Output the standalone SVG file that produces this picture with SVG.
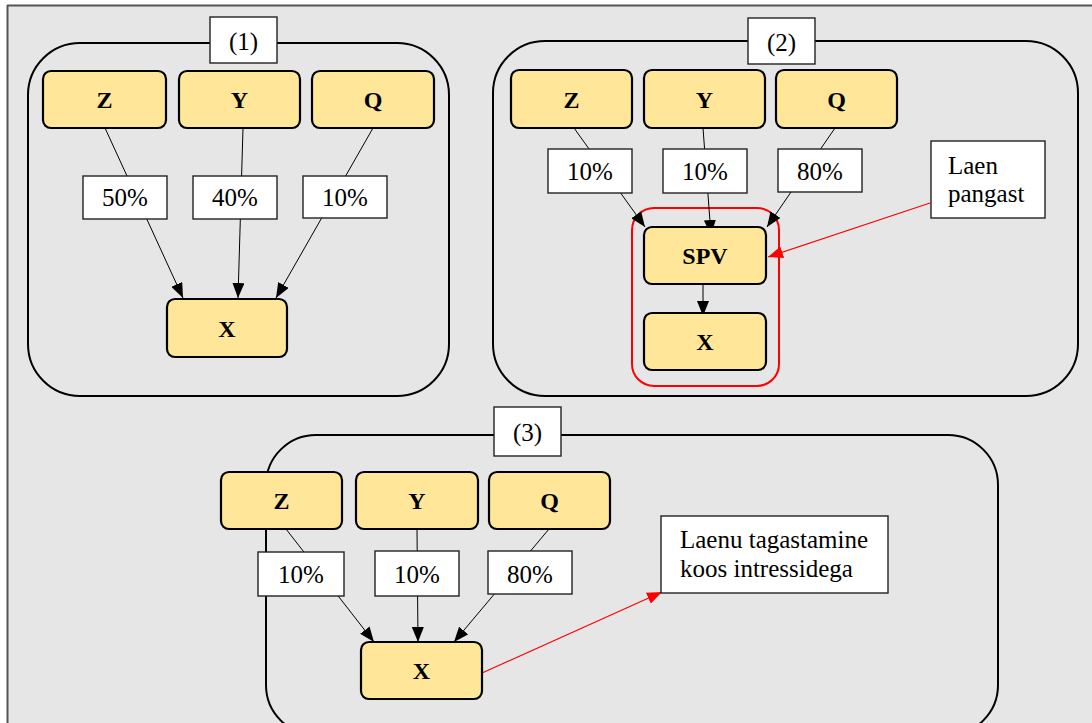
<svg xmlns="http://www.w3.org/2000/svg" width="1092" height="723" viewBox="0 0 1092 723" font-family="'Liberation Serif', 'Times New Roman', Times, serif">
  <style>
    text { font-family: 'Liberation Serif', 'Times New Roman', Times, serif; fill: #000; }
    .panel { fill: none; stroke: #000; stroke-width: 2; }
    .node rect { fill: #ffe699; stroke: #000; stroke-width: 2.2; }
    .node text { font-weight: bold; font-size: 24px; text-anchor: middle; }
    .box { fill: #fff; stroke: #222; stroke-width: 1.4; }
    .lbl { font-size: 25px; text-anchor: middle; }
    .note { font-size: 25px; }
    .edge { stroke: #000; stroke-width: 1; fill: none; marker-end: url(#arrow); }
    .redge { stroke: #ff0000; stroke-width: 1.2; fill: none; marker-end: url(#arrowRed); }
  </style>
  <defs>
    <marker id="arrow" markerUnits="userSpaceOnUse" markerWidth="15" markerHeight="12" refX="15" refY="6" orient="auto">
      <path d="M0,0 L15,6 L0,12 z" fill="#000"/>
    </marker>
    <marker id="arrowRed" markerUnits="userSpaceOnUse" markerWidth="15" markerHeight="12" refX="15" refY="6" orient="auto">
      <path d="M0,0 L15,6 L0,12 z" fill="#ff0000"/>
    </marker>
  </defs>

  <!-- page background -->
  <rect x="0" y="0" width="1092" height="723" fill="#ffffff"/>
  <rect x="7" y="5" width="1085" height="718" fill="#e6e6e6"/>
  <line x1="7" y1="5.5" x2="1092" y2="5.5" stroke="#555" stroke-width="2"/>
  <line x1="7.5" y1="5" x2="7.5" y2="723" stroke="#555" stroke-width="2"/>

  <!-- panel frames -->
  <g id="panels">
    <rect class="panel" x="28" y="43" width="421" height="353" rx="52"/>
    <rect class="panel" x="493" y="41" width="585" height="355" rx="52"/>
    <rect class="panel" x="266" y="435" width="732" height="300" rx="50"/>
    <rect x="632" y="208" width="147" height="178" rx="22" fill="none" stroke="#ff0000" stroke-width="2"/>
  </g>

  <!-- connectors (drawn under the percentage boxes) -->
  <g id="connectors">
    <line class="edge" x1="105" y1="128" x2="183" y2="298"/>
    <line class="edge" x1="243" y1="128" x2="238" y2="298"/>
    <line class="edge" x1="373" y1="128" x2="276" y2="298"/>

    <line class="edge" x1="574" y1="128" x2="645" y2="227"/>
    <line class="edge" x1="703" y1="128" x2="711" y2="235"/>
    <line class="edge" x1="835" y1="128" x2="767" y2="227"/>
    <line class="edge" x1="703" y1="277" x2="703" y2="316"/>
    <line class="redge" x1="930" y1="203" x2="768" y2="257"/>

    <line class="edge" x1="286" y1="529" x2="374" y2="642"/>
    <line class="edge" x1="417" y1="529" x2="418" y2="642"/>
    <line class="edge" x1="549" y1="529" x2="454" y2="642"/>
    <line class="redge" x1="482" y1="673" x2="662" y2="592"/>
  </g>

  <!-- panel titles -->
  <g id="title1"><rect class="box" x="210" y="17" width="67" height="46"/><text class="lbl" x="243.5" y="50">(1)</text></g>
  <g id="title2"><rect class="box" x="748" y="18" width="67" height="46"/><text class="lbl" x="781.5" y="51">(2)</text></g>
  <g id="title3"><rect class="box" x="494" y="407" width="67" height="49"/><text class="lbl" x="527.5" y="441">(3)</text></g>

  <!-- panel 1 -->
  <g id="p1-z" class="node"><rect x="43" y="71" width="123" height="57" rx="8"/><text x="104.5" y="108">Z</text></g>
  <g id="p1-y" class="node"><rect x="179" y="71" width="121" height="57" rx="8"/><text x="239.5" y="108">Y</text></g>
  <g id="p1-q" class="node"><rect x="312" y="71" width="122" height="57" rx="8"/><text x="373" y="108">Q</text></g>
  <g id="p1-x" class="node"><rect x="167" y="299" width="120" height="58" rx="8"/><text x="227" y="336.5">X</text></g>
  <g id="p1-l1"><rect class="box" x="83" y="176" width="84" height="43"/><text class="lbl" x="125" y="206">50%</text></g>
  <g id="p1-l2"><rect class="box" x="193" y="176" width="84" height="43"/><text class="lbl" x="235" y="206">40%</text></g>
  <g id="p1-l3"><rect class="box" x="303" y="176" width="84" height="42"/><text class="lbl" x="345" y="206">10%</text></g>

  <!-- panel 2 -->
  <g id="p2-z" class="node"><rect x="511" y="70" width="121" height="58" rx="8"/><text x="571.5" y="107.5">Z</text></g>
  <g id="p2-y" class="node"><rect x="644" y="70" width="121" height="58" rx="8"/><text x="704.5" y="107.5">Y</text></g>
  <g id="p2-q" class="node"><rect x="776" y="70" width="121" height="58" rx="8"/><text x="836.5" y="107.5">Q</text></g>
  <g id="p2-spv" class="node"><rect x="644" y="227" width="122" height="57" rx="8"/><text x="705" y="264">SPV</text></g>
  <g id="p2-x" class="node"><rect x="644" y="313" width="122" height="57" rx="8"/><text x="705" y="350">X</text></g>
  <g id="p2-l1"><rect class="box" x="548" y="149" width="84" height="44"/><text class="lbl" x="590" y="180">10%</text></g>
  <g id="p2-l2"><rect class="box" x="663" y="149" width="84" height="44"/><text class="lbl" x="705" y="180">10%</text></g>
  <g id="p2-l3"><rect class="box" x="778" y="149" width="84" height="43"/><text class="lbl" x="820" y="180">80%</text></g>
  <g id="p2-note"><rect class="box" x="931" y="141" width="114" height="77"/><text class="note" x="948" y="174">Laen</text><text class="note" x="948" y="202">pangast</text></g>

  <!-- panel 3 -->
  <g id="p3-z" class="node"><rect x="221" y="472" width="121" height="57" rx="8"/><text x="281.5" y="509">Z</text></g>
  <g id="p3-y" class="node"><rect x="356" y="472" width="122" height="57" rx="8"/><text x="417" y="509">Y</text></g>
  <g id="p3-q" class="node"><rect x="489" y="472" width="121" height="57" rx="8"/><text x="549.5" y="509">Q</text></g>
  <g id="p3-x" class="node"><rect x="361" y="642" width="121" height="57" rx="8"/><text x="421.5" y="679">X</text></g>
  <g id="p3-l1"><rect class="box" x="258" y="552" width="86" height="44"/><text class="lbl" x="301" y="583">10%</text></g>
  <g id="p3-l2"><rect class="box" x="375" y="551" width="84" height="45"/><text class="lbl" x="417" y="583">10%</text></g>
  <g id="p3-l3"><rect class="box" x="488" y="551" width="84" height="43"/><text class="lbl" x="530" y="583">80%</text></g>
  <g id="p3-note"><rect class="box" x="661" y="516" width="227" height="77"/><text class="note" x="680" y="548">Laenu tagastamine</text><text class="note" x="680" y="577">koos intressidega</text></g>
</svg>
